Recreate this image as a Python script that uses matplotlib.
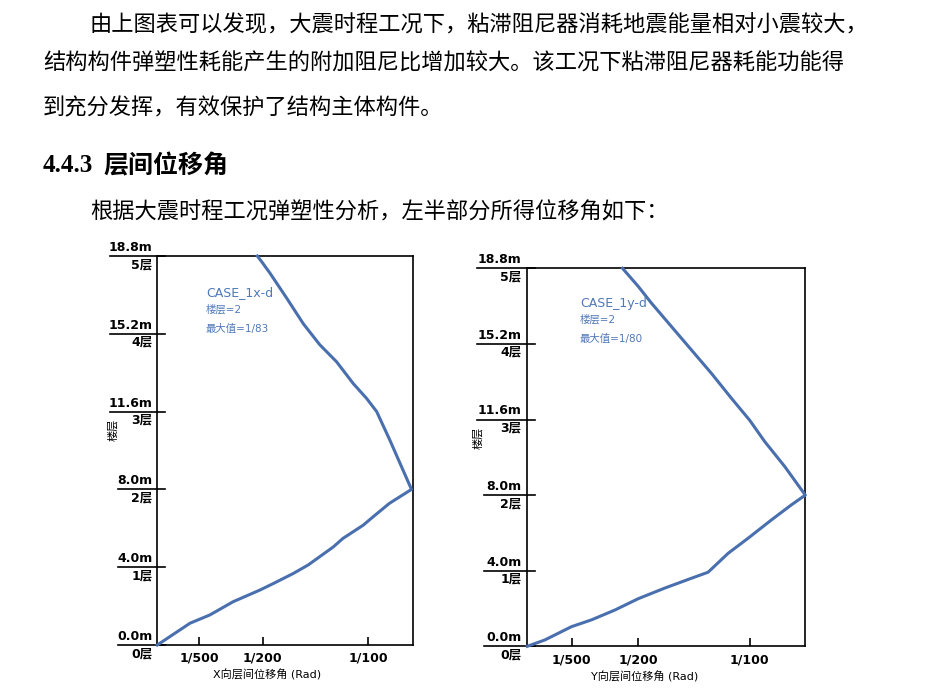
import numpy as np
import matplotlib
matplotlib.use('Agg')
import matplotlib.pyplot as plt
import matplotlib.transforms as mtrans

plt.rcParams['font.family'] = ['DejaVu Sans', 'Noto Sans CJK SC']

# page text
para1 = ["由上图表可以发现，大震时程工况下，粘滞阻尼器消耗地震能量相对小震较大，",
         "结构构件弹塑性耗能产生的附加阻尼比增加较大。该工况下粘滞阻尼器耗能功能得",
         "到充分发挥，有效保护了结构主体构件。"]
heading_no = "4.4.3"
heading_txt = "层间位移角"
para2 = "根据大震时程工况弹塑性分析，左半部分所得位移角如下："

# y axis: storey index with elevations
floor_idx = [0, 1, 2, 3, 4, 5]
floor_lbl = ["0层", "1层", "2层", "3层", "4层", "5层"]
elev_lbl = ["0.0m", "4.0m", "8.0m", "11.6m", "15.2m", "18.8m"]

# x ticks (drift ratio)
xt_val = [1/500, 1/200, 1/100]
xt_lbl = ["1/500", "1/200", "1/100"]

# CASE_1x-d curve (drift, storey position)
x_drift = [0, 0.00155, 0.00249, 0.0036, 0.00487, 0.0055, 0.00645, 0.00716, 0.00834,
           0.0088, 0.00976, 0.01024, 0.0110, 0.01205, 0.01158, 0.01103, 0.0104,
           0.00992, 0.00929, 0.0085, 0.0077, 0.00692, 0.00613, 0.00534, 0.00494, 0.00474]
x_pos = [0, 0.28, 0.386, 0.557, 0.707, 0.79, 0.92, 1.03, 1.26, 1.37, 1.54, 1.65, 1.82,
         2.0, 2.29, 2.63, 3.0, 3.17, 3.36, 3.64, 3.86, 4.13, 4.46, 4.78, 4.93, 5.0]

# CASE_1y-d curve
y_drift = [0, 0.00079, 0.00199, 0.00289, 0.00394, 0.00499, 0.00618, 0.00738, 0.00813,
           0.00903, 0.00993, 0.01097, 0.01187, 0.0125, 0.01157, 0.01067, 0.0100,
           0.00918, 0.00828, 0.00738, 0.00648, 0.00558, 0.00499, 0.00428]
y_pos = [0, 0.084, 0.26, 0.35, 0.48, 0.63, 0.77, 0.9, 0.98, 1.23, 1.43, 1.67, 1.87,
         2.0, 2.38, 2.71, 2.99, 3.28, 3.61, 3.92, 4.23, 4.54, 4.76, 5.0]

W, H = 928, 689
fig = plt.figure(figsize=(W/100, H/100), dpi=100)

def fx(px):
    return px / W

def fy(py):
    return 1 - py / H

# body text
fs_body = 16
fig.text(fx(90), fy(25), para1[0], fontsize=fs_body, va='center', family=['Noto Sans CJK SC'])
fig.text(fx(43), fy(63), para1[1], fontsize=fs_body, va='center', family=['Noto Sans CJK SC'])
fig.text(fx(43), fy(108), para1[2], fontsize=fs_body, va='center', family=['Noto Sans CJK SC'])
fig.text(fx(43), fy(166), heading_no, fontsize=18, va='center', weight='bold',
         family=['Liberation Serif'])
fig.text(fx(103), fy(166), heading_txt, fontsize=18, va='center', weight='bold',
         family=['Noto Sans CJK SC'])
fig.text(fx(90), fy(212), para2, fontsize=fs_body, va='center', family=['Noto Sans CJK SC'])

line_col = '#4a6fae'
txt_col = '#4f78b8'


def drift_chart(box, xd, yp, xmax, lbl_right, wide_left, narrow_left, tick_end,
                ylab_xy, case, maxv, note_xy, xlabel, xlabel_xy):
    ax = fig.add_axes(box)
    ax.plot(xd, yp, color=line_col, lw=2.2, clip_on=False, zorder=3)
    ax.set_xlim(0, xmax)
    ax.set_ylim(0, 5)
    ax.set_yticks([])
    ax.set_xticks(xt_val)
    ax.set_xticklabels(xt_lbl, fontsize=9, weight='bold')
    ax.tick_params(axis='x', direction='in', length=6, width=1.2, pad=5)
    for s in ax.spines.values():
        s.set_linewidth(1.2)
        s.set_color('black')

    tr = mtrans.blended_transform_factory(fig.transFigure, ax.transData)
    for i, f in enumerate(floor_idx):
        x0 = wide_left if len(elev_lbl[i]) > 4 else narrow_left
        ax.plot([fx(x0), fx(tick_end)], [f, f], color='black', lw=1.2,
                transform=tr, clip_on=False)
        ax.annotate(elev_lbl[i], xy=(fx(lbl_right), f), xycoords=tr,
                    xytext=(0, 1.5), textcoords='offset points',
                    ha='right', va='bottom', fontsize=9, weight='bold')
        ax.annotate(floor_lbl[i], xy=(fx(lbl_right), f), xycoords=tr,
                    xytext=(0, -1.5), textcoords='offset points',
                    ha='right', va='top', fontsize=9, weight='bold')

    fig.text(fx(ylab_xy[0]), fy(ylab_xy[1]), "楼层", rotation=90, fontsize=8,
             ha='center', va='center')
    fig.text(fx(note_xy[0]), fy(note_xy[1]), case, fontsize=9, color=txt_col,
             va='center')
    fig.text(fx(note_xy[0]), fy(note_xy[1] + 17), "楼层=2", fontsize=7.5, color=txt_col,
             va='center')
    fig.text(fx(note_xy[0]), fy(note_xy[1] + 36), maxv, fontsize=7.5, color=txt_col,
             va='center')
    fig.text(fx(xlabel_xy[0]), fy(xlabel_xy[1]), xlabel, fontsize=8,
             ha='center', va='center')
    return ax


drift_chart([fx(157.3), fy(645), fx(413.3) - fx(157.3), fy(256) - fy(645)],
            x_drift, x_pos, 1/82.4, 152.5, 110, 118, 165,
            (113, 430), "CASE_1x-d", "最大值=1/83", (206, 293),
            "X向层间位移角 (Rad)", (267, 675))

drift_chart([fx(527.3), fy(646.3), fx(805.3) - fx(527.3), fy(268.3) - fy(646.3)],
            y_drift, y_pos, 1/80, 521.5, 477, 484, 535,
            (478, 438), "CASE_1y-d", "最大值=1/80", (580, 303),
            "Y向层间位移角 (Rad)", (645, 677))

plt.savefig('out.png', dpi=100)
